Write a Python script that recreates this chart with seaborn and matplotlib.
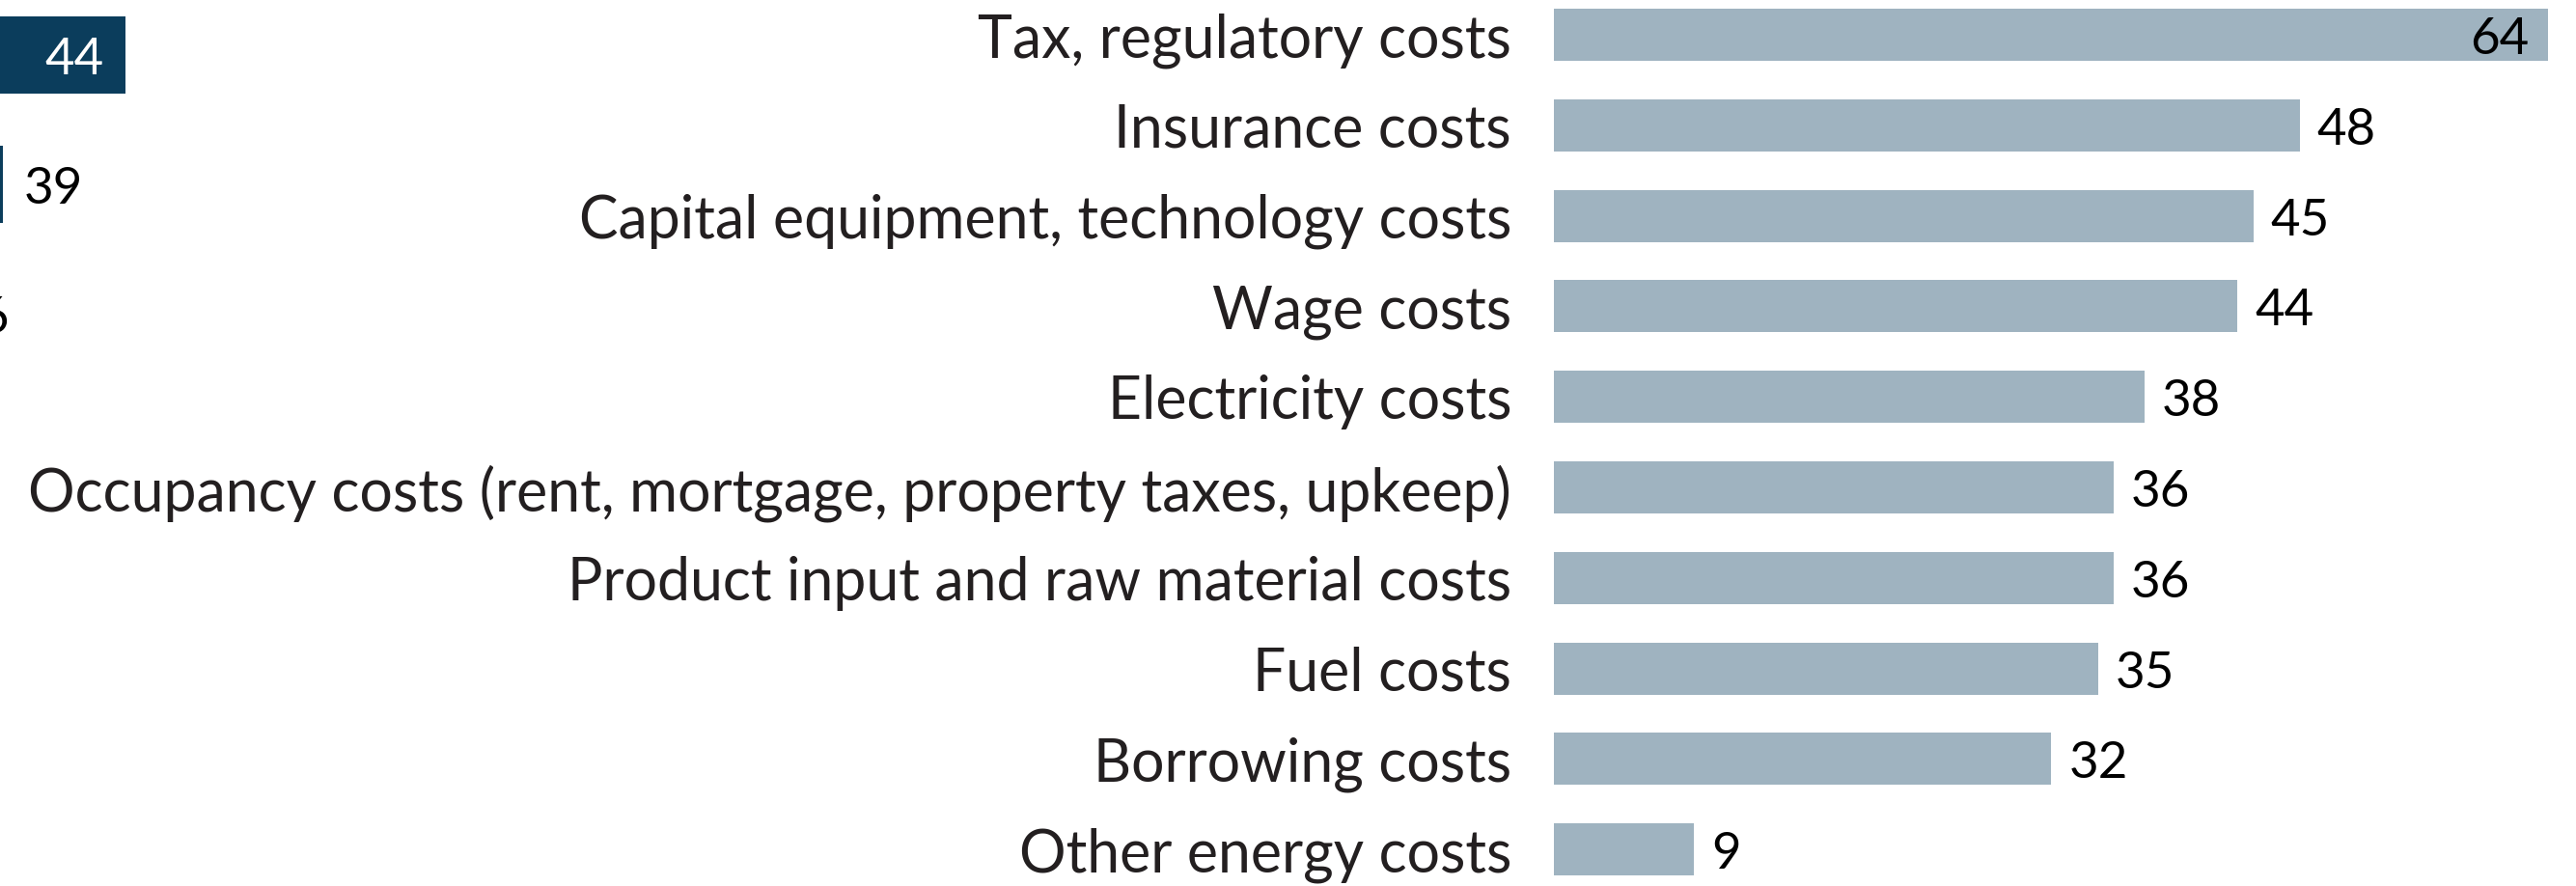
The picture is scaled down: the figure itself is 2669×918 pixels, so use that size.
import matplotlib
matplotlib.use("Agg")
import matplotlib.pyplot as plt
from matplotlib import font_manager
import seaborn as sns
import pandas as pd

# ---- data ----
categories = [
    "Tax, regulatory costs",
    "Insurance costs",
    "Capital equipment, technology costs",
    "Wage costs",
    "Electricity costs",
    "Occupancy costs (rent, mortgage, property taxes, upkeep)",
    "Product input and raw material costs",
    "Fuel costs",
    "Borrowing costs",
    "Other energy costs",
]
values = [64, 48, 45, 44, 38, 36, 36, 35, 32, 9]

# neighbouring panel, cropped at the left edge of the picture
left_categories = ["Panel item 1", "Panel item 2", "Panel item 3"]
left_values = [44, 39, 36]

# ---- style ----
sns.set_theme(style="white")
installed = {f.name for f in font_manager.fontManager.ttflist}
label_font = "Lato" if "Lato" in installed else "DejaVu Sans"
num_font = label_font
plt.rcParams["font.family"] = [label_font, "DejaVu Sans"]

TEXT = "#231F20"
LIGHT = "#9FB3C0"
NAVY = "#0B3D5C"

W, H = 2669, 918
fig = plt.figure(figsize=(W / 100, H / 100), dpi=100)

# fit category label size to the reference width of the longest label
probe = fig.text(0, 0, categories[5], fontsize=40, family=[label_font, "DejaVu Sans"])
fig.canvas.draw()
wpx = probe.get_window_extent().width
label_fs = 40 * 1537 / wpx
probe.remove()

num_fs = 38
dy = -4  # points, digits have no descenders

# ---- right panel ----
x0 = 1610
ax = fig.add_axes([x0 / W, 0, (W - x0) / W, 1])
df = pd.DataFrame({"cat": categories, "val": values})
sns.barplot(data=df, x="val", y="cat", orient="h", color=LIGHT, width=0.576,
            saturation=1, linewidth=0, ax=ax)
ax.set_xlim(0, (W - x0) / 16.1)
ax.set_ylim(9.403, -0.384)
ax.set_xlabel("")
ax.set_ylabel("")
ax.set_xticks([])
ax.tick_params(axis="y", length=0, pad=44 * 0.72, labelsize=label_fs, labelcolor=TEXT)
for s in ax.spines.values():
    s.set_visible(False)
ax.patch.set_alpha(0)

vmax = max(values)
for i, v in enumerate(values):
    if v == vmax:
        ax.annotate(str(v), (v, i), xytext=(-20 * 0.72, dy), textcoords="offset points",
                    ha="right", va="center", fontsize=num_fs, color="black",
                    family=[num_font, "DejaVu Sans"])
    else:
        ax.annotate(str(v), (v, i), xytext=(18 * 0.72, dy), textcoords="offset points",
                    ha="left", va="center", fontsize=num_fs, color="black",
                    family=[num_font, "DejaVu Sans"])

# ---- left panel (mostly outside the canvas) ----
lx0 = -988
lw = 1300
axl = fig.add_axes([lx0 / W, 0, lw / W, 1])
dfl = pd.DataFrame({"cat": left_categories, "val": left_values})
sns.barplot(data=dfl, x="val", y="cat", orient="h", color=NAVY, width=0.597,
            saturation=1, linewidth=0, ax=axl)
axl.set_xlim(0, lw / 25.4)
axl.set_ylim(6.425, -0.425)
axl.set_xlabel("")
axl.set_ylabel("")
axl.set_xticks([])
axl.set_yticks([])
for s in axl.spines.values():
    s.set_visible(False)
axl.patch.set_alpha(0)
lmax = max(left_values)
for i, v in enumerate(left_values):
    if v == lmax:
        axl.annotate(str(v), (v, i), xytext=(-22 * 0.72, dy), textcoords="offset points",
                     ha="right", va="center", fontsize=num_fs, color="white",
                     family=[num_font, "DejaVu Sans"])
    else:
        axl.annotate(str(v), (v, i), xytext=(22 * 0.72, dy), textcoords="offset points",
                     ha="left", va="center", fontsize=num_fs, color="black",
                     family=[num_font, "DejaVu Sans"])

fig.savefig("out.png", dpi=100, facecolor="white")
